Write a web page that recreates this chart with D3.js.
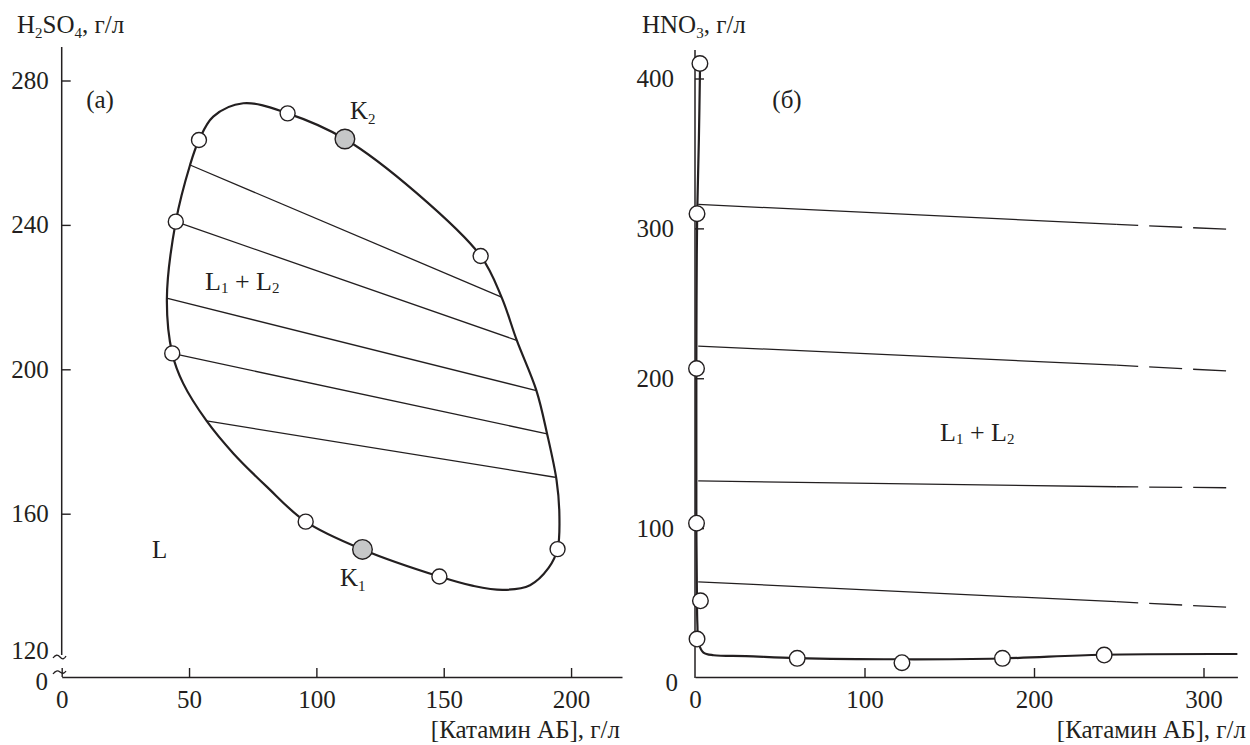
<!DOCTYPE html>
<html><head><meta charset="utf-8">
<script src="https://cdn.jsdelivr.net/npm/d3@7"></script>
<style>
body{margin:0;background:#fff;}
text{font-family:"Liberation Serif","Times New Roman",serif;fill:#231f20;}
</style></head>
<body><svg id="c" width="1250" height="745"></svg>
<script>
// ---------- DATA ----------
// Panel (a): H2SO4 vs Katamin AB
const xTicksA = [0, 50, 100, 150, 200];
const yTicksA = [120, 160, 200, 240, 280];
const binodalA = [[71.3,273.7],[88.7,270.9],[111.2,263.8],[139.4,248.8],[164.5,231.4],[172.7,220],[178.7,208],
  [186.4,194.1],[190.6,182.1],[194.3,169.3],[195.4,160.1],[194.7,150.2],[191.1,144.9],[183.9,140.2],[173.4,138.9],
  [161.6,140],[148.3,142.6],[118.1,150.1],[95.8,157.8],[80.5,167.5],[67.4,176.7],[56.9,185.7],[47.7,196.1],
  [43.4,204.4],[41.3,219.5],[44.8,240.9],[50.4,256.6],[53.9,263.5],[59.5,270]];
const openPtsA = [[53.9,263.5],[88.7,270.9],[44.8,240.9],[164.5,231.4],[43.4,204.4],[95.8,157.8],[148.3,142.6],[194.7,150.2]];
const criticalA = [[111.2,263.8],[118.1,150.1]];
const tieStartA = [[50.4,256.6],[44.8,240.9],[41.2,219.7],[43.4,204.4],[56.9,185.7]];
const tieEndA   = [[172.7,220.0],[178.7,208.0],[186.4,194.1],[190.6,182.1],[193.7,170.1]];

// Panel (б): HNO3 vs Katamin AB
const xTicksB = [0, 100, 200, 300];
const yTicksB = [0, 100, 200, 300, 400];
const binodalB = [[3,410],[2.3,360],[1.3,310],[0.9,250],[0.8,206.5],[0.8,150],[0.8,103],[1.1,60],[1.4,36],
  [2.2,23],[5,17],[11,15.2],[30,14.6],[60,13.3],[120,12.5],[180,13],[240,15.5],[320,16]];
const openPtsB = [[2.9,410],[1.2,309.8],[0.9,206.5],[0.9,103.3],[3.2,51.5],[1.2,26],[60.3,13.1],[122.1,10.2],[181.4,13.1],[241.4,15.3]];
const tieStartB = [[1.9,316],[1.9,221.5],[1.9,131.5],[1.9,64.2]];
const tieSolidEndB = [[248.5,302.7],[248.5,208.7],[248.5,127.6],[248.5,50.9]];
const tieDashEndB = [[316,299.3],[316,204.7],[316,126.9],[316,47.1]];

// ---------- DRAW ----------
const svg = d3.select("#c");
const ink = "#231f20";

function sub(sel, main, s){
  sel.append("tspan").text(main);
  sel.append("tspan").text(s).attr("font-size","15px").attr("dy","5");
}

// ===== Panel (a) =====
const xA = d3.scaleLinear().domain([0,220]).range([61.7, 622]);
const yA = d3.scaleLinear().domain([120,280]).range([658.1, 80.5]);
const gA = svg.append("g");

const yAxA = d3.axisLeft(yA).tickValues(yTicksA).tickSizeInner(-9).tickSizeOuter(0).tickPadding(13);
const gyA = gA.append("g").attr("transform","translate(61.7,0)").call(yAxA);
gyA.select(".domain").remove();
gyA.selectAll(".tick line").attr("stroke",ink).attr("stroke-width",1.4);
gyA.selectAll(".tick").filter(d=>d===120).select("line").remove();
gyA.selectAll(".tick").filter(d=>d===120).select("text").attr("dy","0.32em").attr("y",-8);
gyA.selectAll("text").attr("font-size","25px").attr("fill",ink);
gA.append("line").attr("x1",61.7).attr("x2",61.7).attr("y1",47).attr("y2",655).attr("stroke",ink).attr("stroke-width",1.5);
// break marks
gA.append("path").attr("d","M53,658 Q56.5,653 60,657 T66,656").attr("fill","none").attr("stroke",ink).attr("stroke-width",1.3);
gA.append("path").attr("d","M53,674 Q56.5,669 60,672 T66,671").attr("fill","none").attr("stroke",ink).attr("stroke-width",1.3);
gA.append("text").attr("x",48).attr("y",682).attr("dy","0.32em").attr("text-anchor","end").attr("font-size","25px").text("0");

const xAxA = d3.axisBottom(xA).tickValues(xTicksA).tickSizeInner(-9).tickSizeOuter(0);
const gxA = gA.append("g").attr("transform","translate(0,677)").call(xAxA);
gxA.select(".domain").attr("stroke",ink).attr("stroke-width",1.5);
gxA.selectAll(".tick line").attr("stroke",ink).attr("stroke-width",1.4);
gxA.selectAll("text").attr("font-size","25px").attr("fill",ink).attr("dy",0).attr("y",31);

const tA = gA.append("text").attr("x",17).attr("y",33).attr("font-size","25px");
tA.append("tspan").text("H");
tA.append("tspan").text("2").attr("font-size","15px").attr("dy","5");
tA.append("tspan").text("SO").attr("dy","-5");
tA.append("tspan").text("4").attr("font-size","15px").attr("dy","5");
tA.append("tspan").text(", г/л").attr("dy","-5");
gA.append("text").attr("x",620).attr("y",738).attr("text-anchor","end").attr("font-size","25px").text("[Катамин АБ], г/л");
gA.append("text").attr("x",100).attr("y",108).attr("text-anchor","middle").attr("font-size","25px").text("(а)");

gA.selectAll(".tieA").data(tieStartA).join("line")
  .attr("x1",d=>xA(d[0])).attr("y1",d=>yA(d[1]))
  .attr("x2",(d,i)=>xA(tieEndA[i][0])).attr("y2",(d,i)=>yA(tieEndA[i][1]))
  .attr("stroke",ink).attr("stroke-width",1.3);

gA.append("path").datum(binodalA)
  .attr("d", d3.line().x(d=>xA(d[0])).y(d=>yA(d[1])).curve(d3.curveCatmullRomClosed.alpha(0.5)))
  .attr("fill","none").attr("stroke",ink).attr("stroke-width",2.2);

gA.selectAll(".opA").data(openPtsA).join("circle")
  .attr("cx",d=>xA(d[0])).attr("cy",d=>yA(d[1])).attr("r",7.5)
  .attr("fill","#fff").attr("stroke",ink).attr("stroke-width",1.4);
gA.selectAll(".crA").data(criticalA).join("circle")
  .attr("cx",d=>xA(d[0])).attr("cy",d=>yA(d[1])).attr("r",9.8)
  .attr("fill","#c6c7c8").attr("stroke",ink).attr("stroke-width",1.4);

const k2 = gA.append("text").attr("x",350).attr("y",119).attr("font-size","25px"); sub(k2,"K","2");
const k1 = gA.append("text").attr("x",340).attr("y",586).attr("font-size","25px"); sub(k1,"K","1");
gA.append("text").attr("x",152).attr("y",558).attr("font-size","25px").text("L");
const lA = gA.append("text").attr("x",205).attr("y",290).attr("font-size","26px");
lA.append("tspan").text("L"); lA.append("tspan").text("1").attr("font-size","15px").attr("dy","3");
lA.append("tspan").text(" + L").attr("dy","-3"); lA.append("tspan").text("2").attr("font-size","15px").attr("dy","3");

// ===== Panel (б) =====
const xB = d3.scaleLinear().domain([0,320]).range([695, 1237.4]);
const yB = d3.scaleLinear().domain([0,400]).range([678, 78.5]);
const gB = svg.append("g");

const yAxB = d3.axisLeft(yB).tickValues(yTicksB).tickSizeInner(-9).tickSizeOuter(0).tickPadding(21);
const gyB = gB.append("g").attr("transform","translate(695,0)").call(yAxB);
gyB.select(".domain").remove();
gyB.selectAll(".tick line").attr("stroke",ink).attr("stroke-width",1.4);
gyB.selectAll(".tick").filter(d=>d===0).select("line").remove();
gyB.selectAll(".tick").filter(d=>d===0).select("text").attr("x",-17).attr("y",4);
gyB.selectAll("text").attr("font-size","25px").attr("fill",ink);
gB.append("line").attr("x1",695).attr("x2",695).attr("y1",50).attr("y2",678).attr("stroke",ink).attr("stroke-width",1.5);

const xAxB = d3.axisBottom(xB).tickValues(xTicksB).tickSizeInner(-9).tickSizeOuter(0);
const gxB = gB.append("g").attr("transform","translate(0,677)").call(xAxB);
gxB.select(".domain").attr("stroke",ink).attr("stroke-width",1.5);
gxB.selectAll(".tick").filter(d=>d===0).select("line").remove();
gxB.selectAll(".tick line").attr("stroke",ink).attr("stroke-width",1.4);
gxB.selectAll("text").attr("font-size","25px").attr("fill",ink).attr("dy",0).attr("y",31);

const tB = gB.append("text").attr("x",642).attr("y",33).attr("font-size","25px");
tB.append("tspan").text("HNO");
tB.append("tspan").text("3").attr("font-size","15px").attr("dy","5");
tB.append("tspan").text(", г/л").attr("dy","-5");
gB.append("text").attr("x",1246).attr("y",738).attr("text-anchor","end").attr("font-size","25px").text("[Катамин АБ], г/л");
gB.append("text").attr("x",787).attr("y",108).attr("text-anchor","middle").attr("font-size","25px").text("(б)");

gB.selectAll(".tieB").data(tieStartB).join("line")
  .attr("x1",d=>xB(d[0])).attr("y1",d=>yB(d[1]))
  .attr("x2",(d,i)=>xB(tieSolidEndB[i][0])).attr("y2",(d,i)=>yB(tieSolidEndB[i][1]))
  .attr("stroke",ink).attr("stroke-width",1.3);
gB.selectAll(".tieBd").data(tieSolidEndB).join("line")
  .attr("x1",d=>xB(d[0])).attr("y1",d=>yB(d[1]))
  .attr("x2",(d,i)=>xB(tieDashEndB[i][0])).attr("y2",(d,i)=>yB(tieDashEndB[i][1]))
  .attr("stroke",ink).attr("stroke-width",1.3)
  .attr("stroke-dasharray","33,11").attr("stroke-dashoffset",-33);

gB.append("path").datum(binodalB)
  .attr("d", d3.line().x(d=>xB(d[0])).y(d=>yB(d[1])).curve(d3.curveCatmullRom.alpha(0.5)))
  .attr("fill","none").attr("stroke",ink).attr("stroke-width",2.2);

gB.selectAll(".opB").data(openPtsB).join("circle")
  .attr("cx",d=>xB(d[0])).attr("cy",d=>yB(d[1])).attr("r",7.8)
  .attr("fill","#fff").attr("stroke",ink).attr("stroke-width",1.4);

const lB = gB.append("text").attr("x",940).attr("y",441).attr("font-size","26px");
lB.append("tspan").text("L"); lB.append("tspan").text("1").attr("font-size","15px").attr("dy","3");
lB.append("tspan").text(" + L").attr("dy","-3"); lB.append("tspan").text("2").attr("font-size","15px").attr("dy","3");
</script></body></html>
